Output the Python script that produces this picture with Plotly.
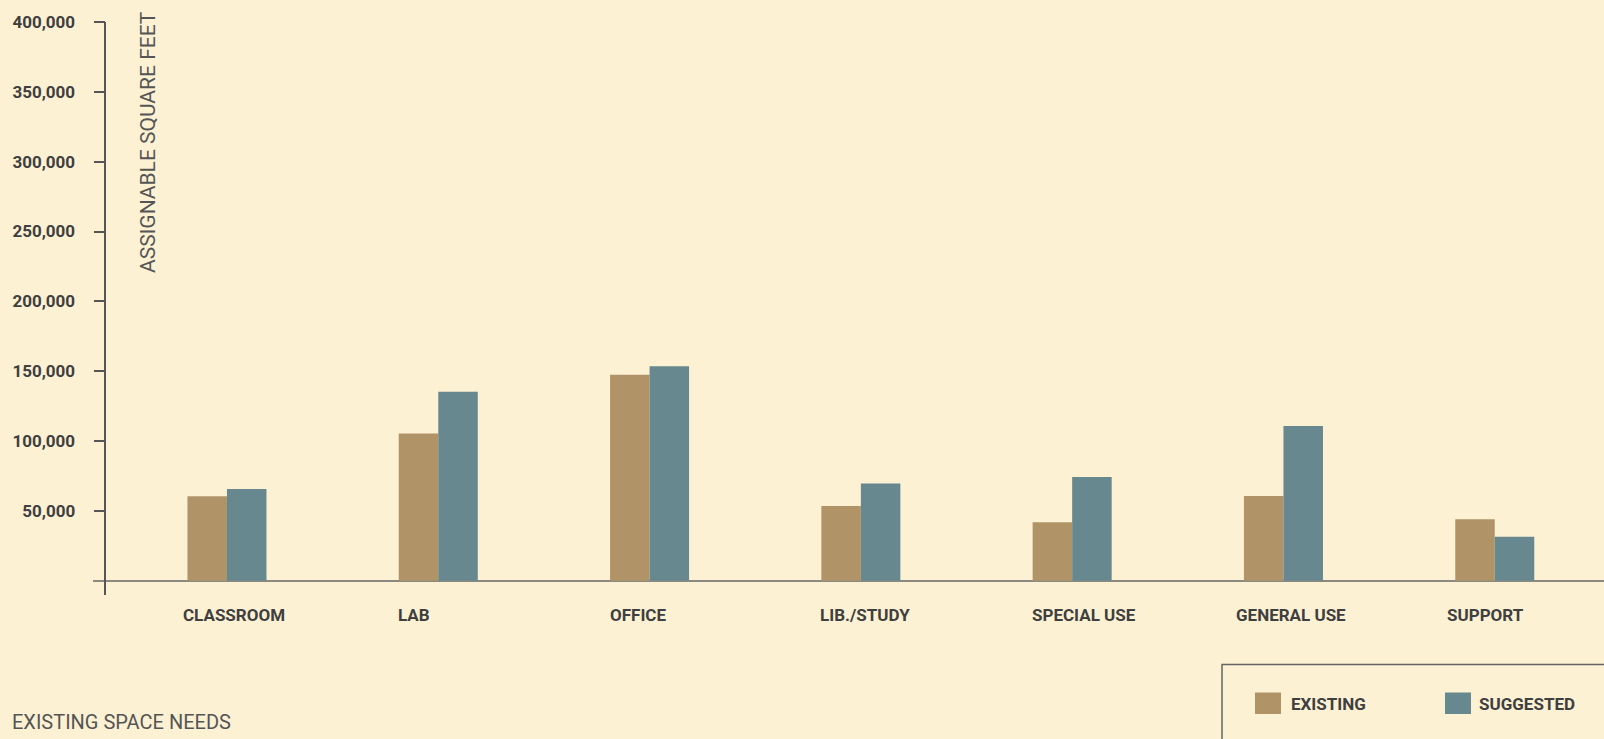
import plotly.graph_objects as go

categories = ["CLASSROOM", "LAB", "OFFICE", "LIB./STUDY", "SPECIAL USE", "GENERAL USE", "SUPPORT"]
existing = [60500, 105300, 147500, 53500, 41800, 60600, 44000]
suggested = [65700, 135200, 153500, 69500, 74300, 110800, 31500]
y_ticks = [50000, 100000, 150000, 200000, 250000, 300000, 350000, 400000]
y_tick_labels = ["50,000", "100,000", "150,000", "200,000", "250,000", "300,000", "350,000", "400,000"]
series_names = ["EXISTING", "SUGGESTED"]
series_colors = ["#b09467", "#68888f"]
# horizontal nudge (px) of each category label's left edge from the category centre
label_shift = [-46, -42, -42, -43, -42, -49, -50]

BG = "#fdf1d4"
TXT = "#3f3f3f"
W, H = 1604, 739
ML, MR, MT, MB = 93, 0, 22, 144

fig = go.Figure()
for name, vals, col in zip(series_names, [existing, suggested], series_colors):
    fig.add_trace(go.Bar(x=categories, y=vals, name=name, marker=dict(color=col, line=dict(width=0)),
                         showlegend=False, hoverinfo="x+y+name"))

pw = W - ML - MR
ph = H - MT - MB
fig.update_layout(
    width=W, height=H,
    margin=dict(l=ML, r=MR, t=MT, b=MB, pad=0),
    paper_bgcolor=BG, plot_bgcolor=BG,
    barmode="group", bargap=0.626, bargroupgap=0,
    font=dict(family="Roboto", color=TXT),
    xaxis=dict(
        domain=[0, 1],
        range=[-0.634, 6.517],
        showgrid=False, showline=False, zeroline=False, ticks="",
        showticklabels=False,
        fixedrange=True,
    ),
    yaxis=dict(
        anchor="free", position=(105.3 - ML) / pw,
        range=[-10244, 400000],
        tickvals=y_ticks, ticktext=y_tick_labels,
        showgrid=False,
        showline=True, linecolor="#555555", linewidth=1.5,
        ticks="outside", ticklen=11, tickwidth=1.5, tickcolor="#555555",
        zeroline=True, zerolinecolor="#8c8a80", zerolinewidth=2,
        tickfont=dict(family="Roboto", size=17, color=TXT, weight="bold"),
        ticklabelstandoff=15,
        fixedrange=True,
    ),
)

def px_x(p):
    return (p - ML) / pw

def px_y(p):
    return 1 - (p - MT) / ph

# category labels
for cat, sh in zip(categories, label_shift):
    fig.add_annotation(text=cat, xref="x", yref="paper", x=cat, y=px_y(615), xshift=sh,
                       xanchor="left", yanchor="middle", showarrow=False,
                       font=dict(family="Roboto", size=17, color=TXT, weight="bold"))

# axis title
fig.add_annotation(text="ASSIGNABLE SQUARE FEET", textangle=-90, xref="paper", yref="paper",
                   x=px_x(148), y=px_y(9), xanchor="center", yanchor="top", showarrow=False,
                   font=dict(family="Roboto", size=21, color="#555555"))
# caption
fig.add_annotation(text="EXISTING SPACE NEEDS", xref="paper", yref="paper",
                   x=px_x(10), y=px_y(722), xanchor="left", yanchor="middle", showarrow=False,
                   font=dict(family="Roboto", size=20, color="#555555"))

# legend box
fig.add_shape(type="rect", xref="paper", yref="paper", x0=px_x(1222), x1=px_x(1700),
              y0=px_y(664.5), y1=px_y(800), line=dict(color="#666666", width=1.5), fillcolor="rgba(0,0,0,0)")
leg_sw_x = [1255, 1445]
leg_tx_x = [1289, 1477]
for name, col, sx, tx in zip(series_names, series_colors, leg_sw_x, leg_tx_x):
    fig.add_shape(type="rect", xref="paper", yref="paper", x0=px_x(sx), x1=px_x(sx + 26),
                  y0=px_y(692.5), y1=px_y(714), line=dict(width=0), fillcolor=col)
    fig.add_annotation(text=name, xref="paper", yref="paper", x=px_x(tx), y=px_y(703.5),
                       xanchor="left", yanchor="middle", showarrow=False,
                       font=dict(family="Roboto", size=17, color=TXT, weight="bold"))

fig.write_html("out.html", config={"displayModeBar": False})
